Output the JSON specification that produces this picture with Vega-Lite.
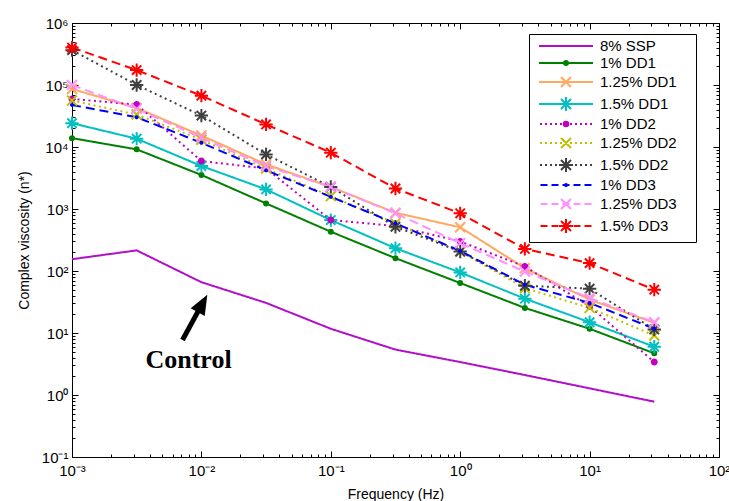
{
  "$schema": "https://vega.github.io/schema/vega-lite/v6.json",
  "width": 647,
  "height": 434,
  "autosize": {"type": "none"},
  "padding": {"left": 72, "top": 23, "right": 10, "bottom": 44},
  "background": "white",
  "config": {
    "view": {"stroke": null},
    "font": "Liberation Sans",
    "axis": {"domainColor": "black", "tickColor": "black", "labelColor": "black", "titleColor": "black", "grid": false, "labelFont": "Liberation Sans", "titleFont": "Liberation Sans", "labelFontSize": 15, "titleFontSize": 14, "titleFontWeight": "normal", "domainWidth": 1, "tickWidth": 1}
  },
  "datasets": {
    "main": [
      {"series":"8% SSP","f":0.001,"v":155},{"series":"8% SSP","f":0.00316,"v":215},{"series":"8% SSP","f":0.01,"v":66},{"series":"8% SSP","f":0.0316,"v":30.6},{"series":"8% SSP","f":0.1,"v":11.7},{"series":"8% SSP","f":0.316,"v":5.4},{"series":"8% SSP","f":1,"v":3.4},{"series":"8% SSP","f":3.16,"v":2.1},{"series":"8% SSP","f":10,"v":1.28},{"series":"8% SSP","f":31.6,"v":0.78},
      {"series":"1% DD1","f":0.001,"v":13900},{"series":"1% DD1","f":0.00316,"v":9160},{"series":"1% DD1","f":0.01,"v":3540},{"series":"1% DD1","f":0.0316,"v":1230},{"series":"1% DD1","f":0.1,"v":430},{"series":"1% DD1","f":0.316,"v":161},{"series":"1% DD1","f":1,"v":64},{"series":"1% DD1","f":3.16,"v":25.4},{"series":"1% DD1","f":10,"v":11.7},{"series":"1% DD1","f":31.6,"v":4.7},
      {"series":"1.25% DD1","f":0.001,"v":86300},{"series":"1.25% DD1","f":0.00316,"v":42700},{"series":"1.25% DD1","f":0.01,"v":15300},{"series":"1.25% DD1","f":0.0316,"v":5250},{"series":"1.25% DD1","f":0.1,"v":2270},{"series":"1.25% DD1","f":0.316,"v":870},{"series":"1.25% DD1","f":1,"v":507},{"series":"1.25% DD1","f":3.16,"v":111},{"series":"1.25% DD1","f":10,"v":34.5},{"series":"1.25% DD1","f":31.6,"v":14.6},
      {"series":"1.5% DD1","f":0.001,"v":24200},{"series":"1.5% DD1","f":0.00316,"v":13600},{"series":"1.5% DD1","f":0.01,"v":4940},{"series":"1.5% DD1","f":0.0316,"v":2070},{"series":"1.5% DD1","f":0.1,"v":663},{"series":"1.5% DD1","f":0.316,"v":233},{"series":"1.5% DD1","f":1,"v":94.7},{"series":"1.5% DD1","f":3.16,"v":35.8},{"series":"1.5% DD1","f":10,"v":14.9},{"series":"1.5% DD1","f":31.6,"v":6.0},
      {"series":"1% DD2","f":0.001,"v":59600},{"series":"1% DD2","f":0.00316,"v":48300},{"series":"1% DD2","f":0.01,"v":5940},{"series":"1% DD2","f":0.0316,"v":4490},{"series":"1% DD2","f":0.1,"v":663},{"series":"1% DD2","f":0.316,"v":532},{"series":"1% DD2","f":1,"v":300},{"series":"1% DD2","f":3.16,"v":118},{"series":"1% DD2","f":10,"v":27},{"series":"1% DD2","f":31.6,"v":3.4},
      {"series":"1.25% DD2","f":0.001,"v":56000},{"series":"1.25% DD2","f":0.00316,"v":33400},{"series":"1.25% DD2","f":0.01,"v":13100},{"series":"1.25% DD2","f":0.0316,"v":4490},{"series":"1.25% DD2","f":0.1,"v":1610},{"series":"1.25% DD2","f":0.316,"v":587},{"series":"1.25% DD2","f":1,"v":206},{"series":"1.25% DD2","f":3.16,"v":53},{"series":"1.25% DD2","f":10,"v":25.4},{"series":"1.25% DD2","f":31.6,"v":9.1},
      {"series":"1.5% DD2","f":0.001,"v":365000},{"series":"1.5% DD2","f":0.00316,"v":100000},{"series":"1.5% DD2","f":0.01,"v":32100},{"series":"1.5% DD2","f":0.0316,"v":7600},{"series":"1.5% DD2","f":0.1,"v":2270},{"series":"1.5% DD2","f":0.316,"v":517},{"series":"1.5% DD2","f":1,"v":206},{"series":"1.5% DD2","f":3.16,"v":57.8},{"series":"1.5% DD2","f":10,"v":51.8},{"series":"1.5% DD2","f":31.6,"v":11.4},
      {"series":"1% DD3","f":0.001,"v":47700},{"series":"1% DD3","f":0.00316,"v":30200},{"series":"1% DD3","f":0.01,"v":11700},{"series":"1% DD3","f":0.0316,"v":4210},{"series":"1% DD3","f":0.1,"v":1570},{"series":"1% DD3","f":0.316,"v":587},{"series":"1% DD3","f":1,"v":211},{"series":"1% DD3","f":3.16,"v":60},{"series":"1% DD3","f":10,"v":30.6},{"series":"1% DD3","f":31.6,"v":11.7},
      {"series":"1.25% DD3","f":0.001,"v":100000},{"series":"1.25% DD3","f":0.00316,"v":41200},{"series":"1.25% DD3","f":0.01,"v":14100},{"series":"1.25% DD3","f":0.0316,"v":4890},{"series":"1.25% DD3","f":0.1,"v":2270},{"series":"1.25% DD3","f":0.316,"v":851},{"series":"1.25% DD3","f":1,"v":281},{"series":"1.25% DD3","f":3.16,"v":98},{"series":"1.25% DD3","f":10,"v":36.7},{"series":"1.25% DD3","f":31.6,"v":14.9},
      {"series":"1.5% DD3","f":0.001,"v":402000},{"series":"1.5% DD3","f":0.00316,"v":174000},{"series":"1.5% DD3","f":0.01,"v":67300},{"series":"1.5% DD3","f":0.0316,"v":23100},{"series":"1.5% DD3","f":0.1,"v":8100},{"series":"1.5% DD3","f":0.316,"v":2140},{"series":"1.5% DD3","f":1,"v":851},{"series":"1.5% DD3","f":3.16,"v":227},{"series":"1.5% DD3","f":10,"v":134},{"series":"1.5% DD3","f":31.6,"v":50}
    ],
    "arrowline": [{"f":0.007143,"v":7.72,"f2":0.009583,"v2":23.8}],
    "arrowhead": [{"f":0.0102,"v":30.0}],
    "label": [{"f":0.00795,"v":2.74,"t":"Control"}]
  },
  "layer": [
    {
      "data": {"name": "main"},
      "mark": {"type": "line", "strokeWidth": 2},
      "encoding": {
        "x": {"field": "f", "type": "quantitative", "scale": {"type": "log", "domain": [0.001, 100], "nice": false},
          "axis": {"orient": "bottom", "title": "Frequency (Hz)", "titlePadding": 6,
            "values": [0.001,0.002,0.003,0.004,0.005,0.006,0.007,0.008,0.009,0.01,0.02,0.03,0.04,0.05,0.06,0.07,0.08,0.09,0.1,0.2,0.3,0.4,0.5,0.6,0.7,0.8,0.9,1,2,3,4,5,6,7,8,9,10,20,30,40,50,60,70,80,90,100],
            "labelExpr": "abs(log(datum.value)/LN10 - round(log(datum.value)/LN10)) < 0.01 ? '10' + replace(replace(replace(replace(replace(replace(replace(replace('' + round(log(datum.value)/LN10), '-', '⁻'), '0', '⁰'), '1', '¹'), '2', '²'), '3', '³'), '4', '⁴'), '5', '⁵'), '6', '⁶') : ''",
            "tickSize": {"condition": {"test": "abs(log(datum.value)/LN10 - round(log(datum.value)/LN10)) < 0.01", "value": -6}, "value": -3},
            "labelPadding": 12, "labelOverlap": false, "labelFlush": false, "labelBound": false, "labelBaseline": "top"}},
        "y": {"field": "v", "type": "quantitative", "scale": {"type": "log", "domain": [0.1, 1000000], "nice": false},
          "axis": {"orient": "left", "title": "Complex viscosity (n*)", "titlePadding": 10,
            "values": [0.1,0.2,0.3,0.4,0.5,0.6,0.7,0.8,0.9,1,2,3,4,5,6,7,8,9,10,20,30,40,50,60,70,80,90,100,200,300,400,500,600,700,800,900,1000,2000,3000,4000,5000,6000,7000,8000,9000,10000,20000,30000,40000,50000,60000,70000,80000,90000,100000,200000,300000,400000,500000,600000,700000,800000,900000,1000000],
            "labelExpr": "abs(log(datum.value)/LN10 - round(log(datum.value)/LN10)) < 0.01 ? '10' + replace(replace(replace(replace(replace(replace(replace(replace('' + round(log(datum.value)/LN10), '-', '⁻'), '0', '⁰'), '1', '¹'), '2', '²'), '3', '³'), '4', '⁴'), '5', '⁵'), '6', '⁶') : ''",
            "tickSize": {"condition": {"test": "abs(log(datum.value)/LN10 - round(log(datum.value)/LN10)) < 0.01", "value": -6}, "value": -3},
            "labelPadding": 10, "labelOverlap": false, "labelBound": false, "labelFlush": false}},
        "color": {"field": "series", "type": "nominal",
          "scale": {"domain": ["8% SSP","1% DD1","1.25% DD1","1.5% DD1","1% DD2","1.25% DD2","1.5% DD2","1% DD3","1.25% DD3","1.5% DD3"],
            "range": ["#b010c8","#008000","#ffa860","#00c0c0","#c000c0","#c0c000","#404040","#0000ff","#ff90ff","#ff0000"]},
          "legend": null},
        "strokeDash": {"field": "series", "type": "nominal",
          "scale": {"domain": ["8% SSP","1% DD1","1.25% DD1","1.5% DD1","1% DD2","1.25% DD2","1.5% DD2","1% DD3","1.25% DD3","1.5% DD3"],
            "range": [[1,0],[1,0],[1,0],[1,0],[2,3.5],[2,3.5],[2,3.5],[9,5],[9,5],[9,5]]},
          "legend": null}
      }
    },
    {
      "data": {"name": "main"},
      "transform": [{"filter": "datum.series != '8% SSP'"}],
      "mark": {"type": "point", "filled": false, "strokeWidth": 2, "size": 196, "opacity": 1},
      "encoding": {
        "x": {"field": "f", "type": "quantitative", "scale": {"type": "log", "domain": [0.001, 100], "nice": false},
          "axis": {"orient": "top", "title": null, "labels": false,
            "values": [0.001,0.002,0.003,0.004,0.005,0.006,0.007,0.008,0.009,0.01,0.02,0.03,0.04,0.05,0.06,0.07,0.08,0.09,0.1,0.2,0.3,0.4,0.5,0.6,0.7,0.8,0.9,1,2,3,4,5,6,7,8,9,10,20,30,40,50,60,70,80,90,100],
            "tickSize": {"condition": {"test": "abs(log(datum.value)/LN10 - round(log(datum.value)/LN10)) < 0.01", "value": -6}, "value": -3}}},
        "y": {"field": "v", "type": "quantitative", "scale": {"type": "log", "domain": [0.1, 1000000], "nice": false},
          "axis": {"orient": "right", "title": null, "labels": false,
            "values": [0.1,0.2,0.3,0.4,0.5,0.6,0.7,0.8,0.9,1,2,3,4,5,6,7,8,9,10,20,30,40,50,60,70,80,90,100,200,300,400,500,600,700,800,900,1000,2000,3000,4000,5000,6000,7000,8000,9000,10000,20000,30000,40000,50000,60000,70000,80000,90000,100000,200000,300000,400000,500000,600000,700000,800000,900000,1000000],
            "tickSize": {"condition": {"test": "abs(log(datum.value)/LN10 - round(log(datum.value)/LN10)) < 0.01", "value": -6}, "value": -3}}},
        "color": {"field": "series", "type": "nominal",
          "scale": {"domain": ["8% SSP","1% DD1","1.25% DD1","1.5% DD1","1% DD2","1.25% DD2","1.5% DD2","1% DD3","1.25% DD3","1.5% DD3"],
            "range": ["#b010c8","#008000","#ffa860","#00c0c0","#c000c0","#c0c000","#404040","#0000ff","#ff90ff","#ff0000"]},
          "legend": null},
        "shape": {"field": "series", "type": "nominal",
          "scale": {"domain": ["8% SSP","1% DD1","1.25% DD1","1.5% DD1","1% DD2","1.25% DD2","1.5% DD2","1% DD3","1.25% DD3","1.5% DD3"],
            "range": ["M0,0",
              "M0.286,0A0.286,0.286 0 1,1 -0.286,0A0.286,0.286 0 1,1 0.286,0M0.143,0A0.143,0.143 0 1,1 -0.143,0A0.143,0.143 0 1,1 0.143,0",
              "M-0.71,-0.71L0.71,0.71M-0.71,0.71L0.71,-0.71",
              "M0,-0.95L0,0.95M-0.95,0L0.95,0M-0.67,-0.67L0.67,0.67M-0.67,0.67L0.67,-0.67",
              "M0.357,0A0.357,0.357 0 1,1 -0.357,0A0.357,0.357 0 1,1 0.357,0M0.17,0A0.17,0.17 0 1,1 -0.17,0A0.17,0.17 0 1,1 0.17,0",
              "M-0.71,-0.71L0.71,0.71M-0.71,0.71L0.71,-0.71",
              "M0,-0.95L0,0.95M-0.95,0L0.95,0M-0.67,-0.67L0.67,0.67M-0.67,0.67L0.67,-0.67",
              "M0.143,0A0.143,0.143 0 1,1 -0.143,0A0.143,0.143 0 1,1 0.143,0",
              "M-0.71,-0.71L0.71,0.71M-0.71,0.71L0.71,-0.71",
              "M0,-0.95L0,0.95M-0.95,0L0.95,0M-0.67,-0.67L0.67,0.67M-0.67,0.67L0.67,-0.67"]},
          "legend": null}
      }
    },
    {
      "data": {"name": "main"},
      "transform": [{"filter": "datum.f < 0"}],
      "mark": {"type": "point", "filled": false, "strokeWidth": 2, "opacity": 1},
      "encoding": {
        "x": {"field": "f", "type": "quantitative", "scale": {"type": "log", "domain": [0.001, 100], "nice": false}, "axis": null},
        "y": {"field": "v", "type": "quantitative", "scale": {"type": "log", "domain": [0.1, 1000000], "nice": false}, "axis": null},
        "color": {"field": "series", "type": "nominal",
          "scale": {"domain": ["8% SSP","1% DD1","1.25% DD1","1.5% DD1","1% DD2","1.25% DD2","1.5% DD2","1% DD3","1.25% DD3","1.5% DD3"],
            "range": ["#b010c8","#008000","#ffa860","#00c0c0","#c000c0","#c0c000","#404040","#0000ff","#ff90ff","#ff0000"]},
          "legend": {"orient": "none", "legendX": 457, "legendY": 11, "title": "MM", "titleOrient": "right", "titleColor": "white", "titleFontSize": 6, "titlePadding": 5, "fillColor": "white", "strokeColor": "black", "padding": 4.5,
            "symbolSize": 100, "symbolStrokeWidth": 2, "symbolOffset": 25, "labelOffset": 26.5, "rowPadding": 1,
            "labelFontSize": 15, "labelFont": "Liberation Sans", "labelColor": "black"}},
        "shape": {"field": "series", "type": "nominal",
          "scale": {"domain": ["8% SSP","1% DD1","1.25% DD1","1.5% DD1","1% DD2","1.25% DD2","1.5% DD2","1% DD3","1.25% DD3","1.5% DD3"],
            "range": [
              "M-5.4,0L5.4,0",
              "M-5.4,0L5.4,0M0.4,0A0.4,0.4 0 1,1 -0.4,0A0.4,0.4 0 1,1 0.4,0M0.2,0A0.2,0.2 0 1,1 -0.2,0A0.2,0.2 0 1,1 0.2,0",
              "M-5.4,0L5.4,0M-1,-1L1,1M-1,1L1,-1",
              "M-5.4,0L5.4,0M0,-1.4L0,1.4M-1.4,0L1.4,0M-1,-1L1,1M-1,1L1,-1",
              "M-5.2,0L-4.8,0M-4.2,0L-3.8,0M-3.2,0L-2.8,0M-2.2,0L-1.8,0M-1.2,0L-0.8,0M-0.2,0L0.2,0M0.8,0L1.2,0M1.8,0L2.2,0M2.8,0L3.2,0M3.8,0L4.2,0M4.8,0L5.2,0M0.45,0A0.45,0.45 0 1,1 -0.45,0A0.45,0.45 0 1,1 0.45,0M0.2,0A0.2,0.2 0 1,1 -0.2,0A0.2,0.2 0 1,1 0.2,0",
              "M-5.2,0L-4.8,0M-4.2,0L-3.8,0M-3.2,0L-2.8,0M-2.2,0L-1.8,0M-1.2,0L-0.8,0M-0.2,0L0.2,0M0.8,0L1.2,0M1.8,0L2.2,0M2.8,0L3.2,0M3.8,0L4.2,0M4.8,0L5.2,0M-1,-1L1,1M-1,1L1,-1",
              "M-5.2,0L-4.8,0M-4.2,0L-3.8,0M-3.2,0L-2.8,0M-2.2,0L-1.8,0M-1.2,0L-0.8,0M-0.2,0L0.2,0M0.8,0L1.2,0M1.8,0L2.2,0M2.8,0L3.2,0M3.8,0L4.2,0M4.8,0L5.2,0M0,-1.4L0,1.4M-1.4,0L1.4,0M-1,-1L1,1M-1,1L1,-1",
              "M-5.1,0L-3.7,0M-2.9,0L-1.5,0M-0.7,0L0.7,0M1.5,0L2.9,0M3.7,0L5.1,0M0.2,0A0.2,0.2 0 1,1 -0.2,0A0.2,0.2 0 1,1 0.2,0",
              "M-5.1,0L-3.7,0M-2.9,0L-1.5,0M-0.7,0L0.7,0M1.5,0L2.9,0M3.7,0L5.1,0M-1,-1L1,1M-1,1L1,-1",
              "M-5.1,0L-3.7,0M-2.9,0L-1.5,0M-0.7,0L0.7,0M1.5,0L2.9,0M3.7,0L5.1,0M0,-1.4L0,1.4M-1.4,0L1.4,0M-1,-1L1,1M-1,1L1,-1"]},
          "legend": {"orient": "none", "legendX": 457, "legendY": 11, "title": "MM", "titleOrient": "right", "titleColor": "white", "titleFontSize": 6, "titlePadding": 5, "fillColor": "white", "strokeColor": "black", "padding": 4.5,
            "symbolSize": 100, "symbolStrokeWidth": 2, "symbolOffset": 25, "labelOffset": 26.5, "rowPadding": 1,
            "labelFontSize": 15, "labelFont": "Liberation Sans", "labelColor": "black"}}
      }
    },
    {
      "data": {"name": "arrowline"},
      "mark": {"type": "rule", "strokeWidth": 5, "color": "black", "strokeCap": "butt"},
      "encoding": {
        "x": {"field": "f", "type": "quantitative", "scale": {"type": "log", "domain": [0.001, 100], "nice": false}, "axis": null},
        "y": {"field": "v", "type": "quantitative", "scale": {"type": "log", "domain": [0.1, 1000000], "nice": false}, "axis": null},
        "x2": {"field": "f2"},
        "y2": {"field": "v2"}
      }
    },
    {
      "data": {"name": "arrowhead"},
      "mark": {"type": "point", "shape": "M0,-1L0.8,1L-0.8,1Z", "filled": true, "color": "black", "size": 400, "angle": 28.7, "opacity": 1, "strokeWidth": 0},
      "encoding": {
        "x": {"field": "f", "type": "quantitative", "scale": {"type": "log", "domain": [0.001, 100], "nice": false}, "axis": null},
        "y": {"field": "v", "type": "quantitative", "scale": {"type": "log", "domain": [0.1, 1000000], "nice": false}, "axis": null}
      }
    },
    {
      "data": {"name": "label"},
      "mark": {"type": "text", "font": "Liberation Serif", "fontWeight": "bold", "fontSize": 26, "align": "center", "baseline": "alphabetic", "color": "black"},
      "encoding": {
        "x": {"field": "f", "type": "quantitative", "scale": {"type": "log", "domain": [0.001, 100], "nice": false}, "axis": null},
        "y": {"field": "v", "type": "quantitative", "scale": {"type": "log", "domain": [0.1, 1000000], "nice": false}, "axis": null},
        "text": {"field": "t"}
      }
    }
  ],
  "resolve": {"scale": {"color": "independent", "shape": "independent"}, "axis": {"x": "independent", "y": "independent"}}
}
